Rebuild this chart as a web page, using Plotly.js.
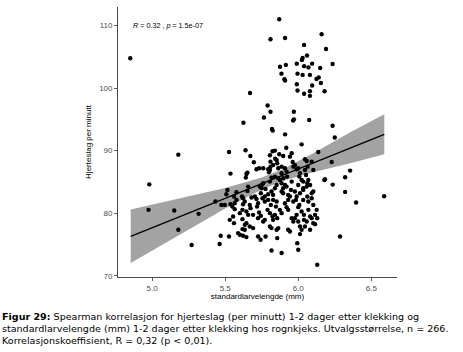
<!DOCTYPE html>
<html>
<head>
<meta charset="utf-8">
<script src="https://cdn.plot.ly/plotly-3.0.1.min.js"></script>
<style>html,body{margin:0;padding:0;background:#fff;}#chart{width:463px;height:352px;}</style>
</head>
<body>
<div id="chart"></div>
<script>
// standard larval length (mm)
const lengthMm = [
5.87,5.81,5.91,6.16,6.04,6.19,6.06,6.03,6.025,5.99,5.915,5.875,6.04,6.07,6.095,6.15,5.885,5.995,6.03,6.08,
5.905,5.91,6.14,6.125,6.155,5.99,6.095,5.995,6.08,6.18,6.04,6.08,6.235,4.85,5.67,5.79,5.81,5.765,5.97,5.97,
5.965,6.075,5.625,5.82,5.825,5.91,6.235,6.25,
5.526,5.639,5.672,5.696,5.806,5.824,5.840,5.870,5.918,6.023,5.943,5.897,5.842,5.810,5.856,5.962,6.046,5.886,5.810,5.806,
5.794,5.714,5.732,5.652,5.645,5.536,5.955,5.852,5.828,6.137,6.058,6.092,6.229,5.179,5.641,5.760,5.799,
5.863,5.909,5.920,5.977,6.000,5.886,5.840,5.817,5.863,5.874,5.897,5.886,5.909,5.806,6.103,6.046,6.012,6.183,6.023,
6.034,5.955,5.920,5.897,6.000,6.058,6.081,6.092,5.886,5.897,5.931,5.943,5.977,5.989,6.012,6.034,6.034,5.966,6.069,5.852,
5.828,5.909,6.103,5.817,5.840,5.924,5.966,5.989,6.007,6.064,6.053,6.069,6.062,6.179,
5.515,5.508,5.577,5.615,5.657,5.652,5.737,5.749,5.776,5.794,5.771,5.714,5.680,5.725,5.794,5.812,5.433,5.474,5.497,5.536,
5.565,5.622,5.668,5.828,5.560,5.577,5.622,5.634,5.549,5.565,5.618,5.673,5.703,5.744,5.749,5.760,5.755,5.771,5.718,5.732,
5.744,5.790,5.806,5.847,5.852,5.950,5.984,5.931,5.920,5.931,6.034,6.007,6.000,6.062,6.092,6.103,6.126,6.115,6.023,6.039,
5.989,5.977,5.955,5.966,6.000,6.039,6.058,6.069,6.081,6.092,5.874,5.886,5.840,5.824,5.856,5.828,5.771,5.760,5.725,5.691,
5.645,5.657,5.600,5.618,5.554,5.634,5.645,5.668,5.618,5.634,5.691,5.806,5.817,5.863,5.931,5.943,6.012,6.023,6.046,6.081,
6.115,6.130,5.469,5.462,5.526,5.588,5.600,5.622,5.645,5.725,5.742,5.776,5.856,5.852,5.817,5.886,5.993,6.000,6.012,6.130,
5.318,4.980,4.975,5.151,5.179,5.270,6.355,6.321,6.236,6.321,6.396,6.588,6.286,6.103,5.531,5.560
];
// heart rate (beats per minute)
const heartRate = [
111.0,107.8,108.0,108.6,106.9,106.25,105.2,104.8,104.5,103.9,103.7,103.4,103.5,103.3,103.9,103.2,102.3,102.3,102.1,102.1,
101.4,101.2,101.7,101.45,100.8,100.6,100.4,99.6,99.5,99.5,99.1,98.75,103.85,104.77,99.2,97.2,96.2,95.3,96.2,95.0,
94.8,94.9,94.45,93.45,93.2,92.6,93.97,92.1,
89.78,90.05,89.14,88.13,89.25,89.89,90.0,89.41,90.46,91.0,89.03,89.14,88.71,88.23,87.97,88.18,88.61,87.43,87.43,86.91,
87.02,87.02,87.18,86.48,86.27,86.32,89.57,88.50,87.70,89.78,88.34,88.23,88.18,89.35,85.68,87.18,86.54,
87.18,87.18,86.64,87.70,87.18,86.38,85.84,85.68,85.58,85.31,85.58,84.78,84.51,85.04,86.91,86.91,86.38,85.42,85.31,
85.04,85.04,84.24,83.99,84.51,84.24,84.51,83.19,83.45,83.19,82.92,82.65,83.45,82.65,83.19,83.72,82.12,81.85,81.85,81.85,
82.12,81.59,81.32,83.45,83.99,85.84,87.43,87.02,85.84,87.43,86.11,85.31,84.78,85.31,
83.72,83.03,83.35,82.65,84.24,83.56,84.24,83.99,83.88,83.03,82.65,82.28,82.49,81.59,82.12,81.32,81.85,81.32,81.32,81.43,
81.59,81.43,81.32,82.92,82.65,82.12,82.39,81.85,81.05,80.64,80.53,80.80,82.65,83.19,84.51,84.78,82.39,81.85,81.05,80.10,
79.57,80.53,80.0,81.05,84.51,83.72,82.12,82.12,80.96,80.53,83.99,81.32,80.96,82.65,82.39,83.45,80.53,79.73,80.26,79.73,
79.73,79.2,79.2,78.66,78.66,78.93,78.66,80.53,79.46,79.2,80.53,80.0,79.73,79.46,79.2,78.93,78.93,78.66,79.2,79.73,
80.26,79.73,80.0,79.04,79.46,78.13,78.4,77.86,77.45,77.34,77.61,77.86,77.61,77.61,77.34,77.07,77.86,77.34,77.86,77.34,
78.24,79.2,76.38,75.06,76.27,76.81,76.54,76.38,76.17,76.27,75.74,76.27,76.01,77.34,74.03,73.62,75.2,74.15,76.65,71.75,
79.89,84.6,80.53,80.42,77.34,74.9,86.80,85.74,84.56,83.40,81.69,82.71,76.27,78.4,78.93,78.4
];
// fitted regression line and its 95% confidence band
const fitX  = [4.853, 5.0, 5.25, 5.5, 5.75, 5.9, 6.1, 6.35, 6.589];
const fitY  = [76.3, 77.68, 80.04, 82.39, 84.74, 86.15, 88.03, 90.39, 92.6];
const fitLo = [72.03, 74.03, 77.42, 80.74, 83.79, 85.19, 86.52, 87.93, 89.4];
const fitHi = [80.57, 81.33, 82.66, 84.04, 85.69, 87.11, 89.54, 92.85, 95.8];
const xTicks = [5.0, 5.5, 6.0, 6.5];
const xTickText = ['5.0', '5.5', '6.0', '6.5'];
const yTicks = [70, 80, 90, 100, 110];
const corrLabel = '<i>R</i> = 0.32 , <i>p</i> = 1.5e-07';
const captionLines = [
  '<b>Figur 29:</b> Spearman korrelasjon for hjerteslag (per minutt) 1-2 dager etter klekking og',
  'standardlarvelengde (mm) 1-2 dager etter klekking hos rognkjeks. Utvalgsstørrelse, n = 266.',
  'Korrelasjonskoeffisient, R = 0,32 (p &lt; 0,01).'
];

const W = 463, H = 352;
const M = {l: 118, r: 66, t: 7, b: 75};
const plotW = W - M.l - M.r, plotH = H - M.t - M.b;
const px2paperX = p => (p - M.l) / plotW;
const px2paperY = p => (H - M.b - p) / plotH;

const tickFont = {family: 'Liberation Sans, Arial, sans-serif', size: 8, color: '#4d4d4d'};
const titleFont = {family: 'Liberation Sans, Arial, sans-serif', size: 8, color: '#000'};

const traces = [
  {x: fitX, y: fitLo, mode: 'lines', line: {width: 0, color: 'rgba(0,0,0,0)'}, hoverinfo: 'skip', showlegend: false},
  {x: fitX, y: fitHi, mode: 'lines', fill: 'tonexty', fillcolor: '#a3a3a3', line: {width: 0, color: 'rgba(0,0,0,0)'}, hoverinfo: 'skip', showlegend: false},
  {x: fitX, y: fitY, mode: 'lines', line: {color: '#000', width: 1.3}, showlegend: false},
  {x: lengthMm, y: heartRate, mode: 'markers', type: 'scatter', marker: {color: '#000', size: 4.4}, showlegend: false}
];

const annotations = [
  {x: 4.853, y: 110, xref: 'x', yref: 'y', text: corrLabel, showarrow: false, xanchor: 'left', yanchor: 'middle',
   font: {family: 'Liberation Sans, Arial, sans-serif', size: 7.2, color: '#000'}}
];
const capY = [316, 328, 340];
captionLines.forEach((t, i) => annotations.push({
  x: px2paperX(0), y: px2paperY(capY[i]), xref: 'paper', yref: 'paper', text: t, showarrow: false,
  xanchor: 'left', yanchor: 'middle', align: 'left',
  font: {family: 'DejaVu Sans, Verdana, sans-serif', size: 9.55, color: '#000'}
}));

const layout = {
  width: W, height: H, margin: M,
  paper_bgcolor: '#fff', plot_bgcolor: '#fff',
  showlegend: false,
  xaxis: {range: [4.766, 6.676], tickvals: xTicks, ticktext: xTickText, ticks: 'outside', ticklen: 3, tickwidth: 0.8,
          tickcolor: '#333', showline: true, linecolor: '#333', linewidth: 0.9, showgrid: false, zeroline: false,
          tickfont: tickFont, title: {text: 'standardlarvelengde (mm)', font: titleFont, standoff: 1}, automargin: false},
  yaxis: {range: [69.79, 112.96], tickvals: yTicks, ticks: 'outside', ticklen: 3, tickwidth: 0.8,
          tickcolor: '#333', showline: true, linecolor: '#333', linewidth: 0.9, showgrid: false, zeroline: false,
          tickfont: tickFont, title: {text: 'Hjerteslag per minutt', font: titleFont, standoff: 6}, automargin: false},
  annotations: annotations
};

Plotly.newPlot('chart', traces, layout, {staticPlot: true, displayModeBar: false});
</script>
</body>
</html>
